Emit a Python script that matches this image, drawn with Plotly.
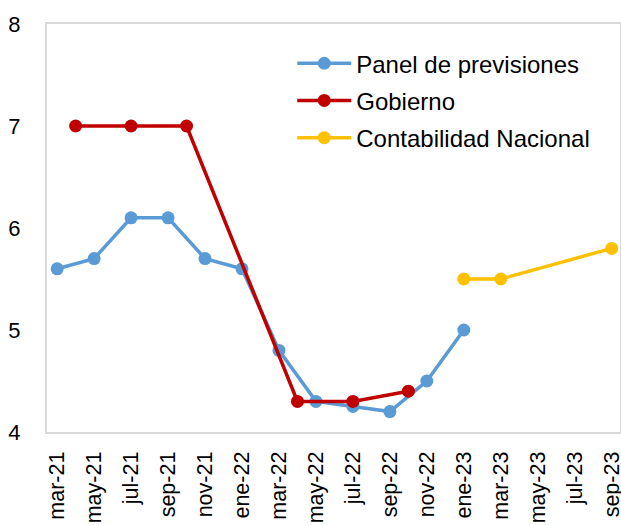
import plotly.graph_objects as go

months = ["mar-21","abr-21","may-21","jun-21","jul-21","ago-21","sep-21","oct-21","nov-21","dic-21",
          "ene-22","feb-22","mar-22","abr-22","may-22","jun-22","jul-22","ago-22","sep-22","oct-22","nov-22","dic-22",
          "ene-23","feb-23","mar-23","abr-23","may-23","jun-23","jul-23","ago-23","sep-23"]

panel_months = ["mar-21","may-21","jul-21","sep-21","nov-21","ene-22","mar-22","may-22","jul-22","sep-22","nov-22","ene-23"]
panel_values = [5.6, 5.7, 6.1, 6.1, 5.7, 5.6, 4.8, 4.3, 4.25, 4.2, 4.5, 5.0]

gob_months = ["abr-21","jul-21","oct-21","abr-22","jul-22","oct-22"]
gob_values = [7.0, 7.0, 7.0, 4.3, 4.3, 4.4]

cn_months = ["ene-23","mar-23","sep-23"]
cn_values = [5.5, 5.5, 5.8]

tick_labels = months[::2]
tick_pos = list(range(0, len(months), 2))

idx = {m: i for i, m in enumerate(months)}

fig = go.Figure()
series = [
    ("Panel de previsiones", panel_months, panel_values, "#5B9BD5"),
    ("Gobierno", gob_months, gob_values, "#C00000"),
    ("Contabilidad Nacional", cn_months, cn_values, "#FFC000"),
]
for name, ms, vs, col in series:
    fig.add_trace(go.Scatter(
        x=[idx[m] for m in ms], y=vs, name=name, mode="lines+markers",
        line=dict(color=col, width=3.5), marker=dict(color=col, size=13),
        legendgroup=name, cliponaxis=False,
    ))

fig.update_layout(
    width=621, height=525,
    margin=dict(l=47, r=1, t=24, b=93, autoexpand=False),
    plot_bgcolor="white", paper_bgcolor="white",
    font=dict(family="Liberation Sans, Arial, sans-serif", size=22, color="black"),
    showlegend=True,
    legend=dict(x=0.428, y=0.958, xanchor="left", yanchor="top",
                font=dict(size=24), tracegroupgap=3, itemwidth=54,
                bgcolor="rgba(0,0,0,0)"),
    xaxis=dict(range=[-0.55, 30.45], tickvals=tick_pos, ticktext=tick_labels,
               tickangle=-90, showgrid=False, zeroline=False,
               showline=True, linecolor="#D9D9D9", linewidth=2, mirror=True,
               ticks="", ticklabelstandoff=9, tickfont=dict(size=21.5),
               automargin=False, ticklabeloverflow="allow"),
    yaxis=dict(range=[4, 8], tickvals=[4,5,6,7,8], showgrid=False, zeroline=False,
               showline=True, linecolor="#D9D9D9", linewidth=2, mirror=True,
               ticks="", ticklabelstandoff=20, tickfont=dict(size=22), automargin=False),
)

fig.write_html("out.html", config={"displayModeBar": False},
               post_script="document.body.style.margin='0';document.body.style.overflow='hidden';")
